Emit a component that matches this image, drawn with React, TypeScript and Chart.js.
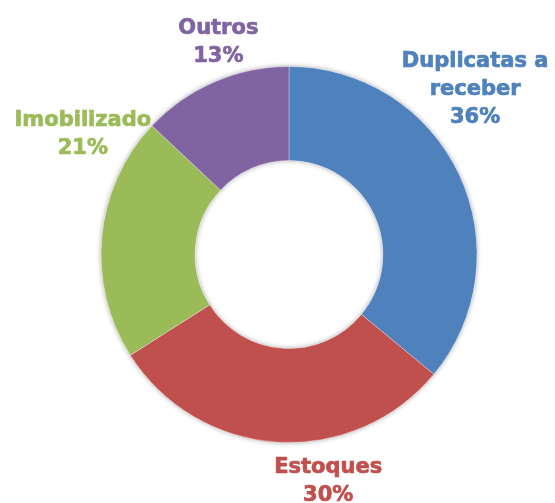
import React, { useEffect, useRef } from "react";
import { Chart, registerables } from "chart.js";

Chart.register(...registerables);

const categories = ["Duplicatas a\nreceber", "Estoques", "Imobilizado", "Outros"];
const values = [36, 30, 21, 13];
const colors = ["#4F81BD", "#C0504D", "#9BBB59", "#8064A2"];
// label offsets from each slice's mid outer point (x centre, first baseline)
const labelOffsets = [
  { dx: 16, dy: -107 },
  { dx: 51, dy: 31 },
  { dx: -19, dy: -111 },
  { dx: 4, dy: -48 },
];

const FONT = "bold 21px 'DejaVu Sans'";
const LINE_H = 28;

const ringShadow = {
  id: "ringShadow",
  beforeDatasetsDraw(chart: any) {
    const meta = chart.getDatasetMeta(0);
    const a = meta.data[0];
    if (!a) return;
    const { x, y, outerRadius, innerRadius } = a.getProps(["x", "y", "outerRadius", "innerRadius"], true);
    const ctx = chart.ctx;
    ctx.save();
    ctx.shadowColor = "rgba(0,0,0,0.35)";
    ctx.shadowBlur = 5;
    ctx.fillStyle = "#ffffff";
    ctx.beginPath();
    ctx.arc(x, y, outerRadius, 0, Math.PI * 2);
    ctx.arc(x, y, innerRadius, 0, Math.PI * 2, true);
    ctx.closePath();
    ctx.fill();
    ctx.restore();
  },
};

const outerLabels = {
  id: "outerLabels",
  afterDatasetsDraw(chart: any) {
    const meta = chart.getDatasetMeta(0);
    const data: number[] = chart.data.datasets[0].data;
    const total = data.reduce((s, v) => s + v, 0);
    const ctx = chart.ctx;
    ctx.save();
    ctx.font = FONT;
    ctx.textAlign = "center";
    ctx.textBaseline = "alphabetic";
    ctx.lineWidth = 0.7;
    ctx.lineJoin = "round";
    meta.data.forEach((arc: any, i: number) => {
      const { x, y, startAngle, endAngle, outerRadius } = arc.getProps(
        ["x", "y", "startAngle", "endAngle", "outerRadius"],
        true
      );
      const mid = (startAngle + endAngle) / 2;
      const ax = x + Math.cos(mid) * outerRadius;
      const ay = y + Math.sin(mid) * outerRadius;
      const off = labelOffsets[i];
      const lx = ax + off.dx;
      const ly = ay + off.dy;
      const lines = String(chart.data.labels[i]).split("\n");
      lines.push(Math.round((data[i] / total) * 100) + "%");
      ctx.fillStyle = colors[i];
      ctx.strokeStyle = colors[i];
      lines.forEach((t, k) => {
        ctx.fillText(t, lx, ly + k * LINE_H);
        ctx.strokeText(t, lx, ly + k * LINE_H);
      });
    });
    ctx.restore();
  },
};

export default function App() {
  const ref = useRef<HTMLCanvasElement>(null);
  useEffect(() => {
    if (!ref.current) return;
    const chart = new Chart(ref.current, {
      type: "doughnut",
      data: {
        labels: categories,
        datasets: [
          {
            data: values,
            backgroundColor: colors,
            borderColor: "rgba(255,255,255,0.3)",
            borderWidth: 1,
            hoverOffset: 0,
            offset: 0,
          },
        ],
      },
      options: {
        responsive: false,
        animation: false,
        cutout: "50%",
        layout: { padding: { left: 100, right: 77, top: 66, bottom: 60 } },
        plugins: {
          legend: { display: false },
          tooltip: { enabled: false },
        },
        events: [],
      },
      plugins: [ringShadow, outerLabels],
    });
    return () => chart.destroy();
  }, []);
  return (
    <div style={{ position: "absolute", left: 0, top: 0, width: 555, height: 503, background: "#fff" }}>
      <canvas ref={ref} width={555} height={503} style={{ display: "block" }} />
    </div>
  );
}
